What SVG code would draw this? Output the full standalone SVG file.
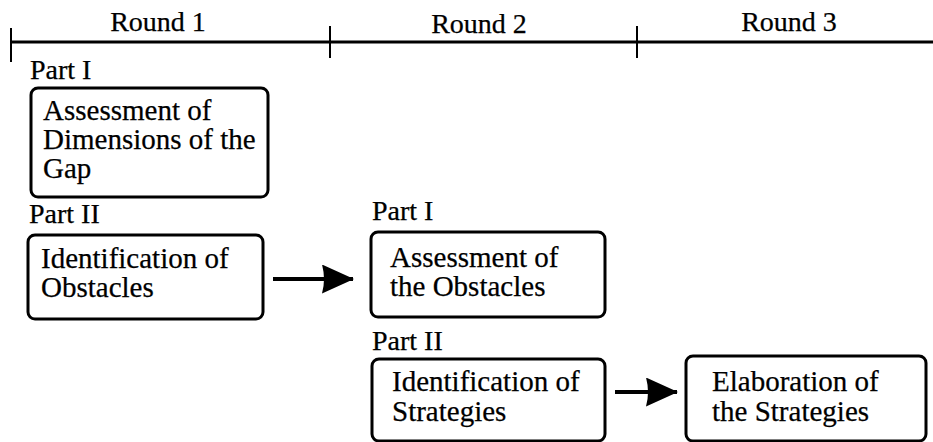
<svg xmlns="http://www.w3.org/2000/svg" width="933" height="442" viewBox="0 0 933 442">
  <defs>
    <style>
      .t { font-family: "Liberation Serif", "Times New Roman", serif; fill: #000; stroke: #000; stroke-width: 0.25; }
      .round { font-size: 28px; }
      .part { font-size: 28px; }
      .body { font-size: 29px; }
      .box { fill: #fff; stroke: #000; stroke-width: 3; }
      .line { stroke: #000; stroke-width: 3; fill: none; }
      .conn { stroke: #000; stroke-width: 4; fill: none; }
      .tick { stroke: #000; stroke-width: 2; }
    </style>
    <marker id="head" viewBox="0 0 32 29" refX="31" refY="14.5" markerWidth="32" markerHeight="29" markerUnits="userSpaceOnUse" orient="auto">
      <path d="M0,0 L32,14.5 L0,29 Q4,14.5 0,0 Z" fill="#000"/>
    </marker>
  </defs>
  <rect width="933" height="442" fill="#fff"/>

  <!-- timeline with round markers -->
  <g id="timeline">
    <line class="line" x1="11" y1="42" x2="933" y2="42"/>
    <line class="tick" x1="11" y1="28" x2="11" y2="62"/>
    <line class="tick" x1="330" y1="26" x2="330" y2="58"/>
    <line class="tick" x1="637" y1="26" x2="637" y2="58"/>
    <text class="t round" x="158" y="31" text-anchor="middle">Round 1</text>
    <text class="t round" x="479" y="33" text-anchor="middle">Round 2</text>
    <text class="t round" x="789" y="31" text-anchor="middle">Round 3</text>
  </g>

  <!-- Round 1 -->
  <g id="r1-part1">
    <text class="t part" x="30" y="79">Part I</text>
    <rect class="box" x="31" y="88" width="237" height="109" rx="7"/>
    <text class="t body" x="43" y="120">Assessment of</text>
    <text class="t body" x="43" y="149">Dimensions of the</text>
    <text class="t body" x="43" y="178">Gap</text>
  </g>
  <g id="r1-part2">
    <text class="t part" x="29" y="223">Part II</text>
    <rect class="box" x="28" y="235" width="235" height="84" rx="7"/>
    <text class="t body" x="41" y="268">Identification of</text>
    <text class="t body" x="41" y="297">Obstacles</text>
  </g>

  <!-- Round 2 -->
  <g id="r2-part1">
    <text class="t part" x="372" y="220">Part I</text>
    <rect class="box" x="371" y="232" width="234" height="85" rx="7"/>
    <text class="t body" x="390" y="267">Assessment of</text>
    <text class="t body" x="390" y="296">the Obstacles</text>
  </g>
  <g id="r2-part2">
    <text class="t part" x="372" y="350">Part II</text>
    <rect class="box" x="372" y="359" width="233" height="82" rx="7"/>
    <text class="t body" x="392" y="391">Identification of</text>
    <text class="t body" x="392" y="421">Strategies</text>
  </g>

  <!-- Round 3 -->
  <g id="r3">
    <rect class="box" x="686" y="356" width="240" height="85" rx="7"/>
    <text class="t body" x="712" y="391">Elaboration of</text>
    <text class="t body" x="712" y="421">the Strategies</text>
  </g>

  <!-- connectors -->
  <g id="connectors">
    <line class="conn" x1="273" y1="279" x2="353" y2="279" marker-end="url(#head)"/>
    <line class="conn" x1="615" y1="392" x2="677" y2="392" marker-end="url(#head)"/>
  </g>
</svg>
